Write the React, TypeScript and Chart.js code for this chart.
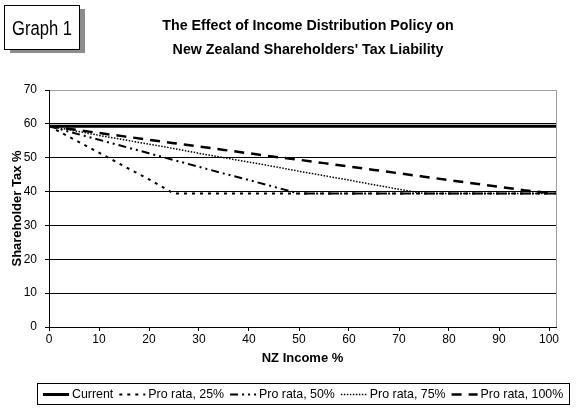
import { useEffect, useRef } from "react";
import { Chart, registerables } from "chart.js";

Chart.register(...registerables);

// ---- data ----
const incomePct = [0, 5, 10, 15, 20, 25, 30, 35, 40, 45, 50, 55, 60, 65, 70, 75, 80, 85, 90, 95, 100, 101.4];
const current = [59.3, 59.3, 59.3, 59.3, 59.3, 59.3, 59.3, 59.3, 59.3, 59.3, 59.3, 59.3, 59.3, 59.3, 59.3, 59.3, 59.3, 59.3, 59.3, 59.3, 59.3, 59.3];
const proRata25 = [59.3, 55.4, 51.5, 47.5, 43.6, 39.4, 39.4, 39.4, 39.4, 39.4, 39.4, 39.4, 39.4, 39.4, 39.4, 39.4, 39.4, 39.4, 39.4, 39.4, 39.4, 39.4];
const proRata50 = [59.3, 57.3, 55.3, 53.3, 51.3, 49.3, 47.3, 45.3, 43.4, 41.4, 39.4, 39.4, 39.4, 39.4, 39.4, 39.4, 39.4, 39.4, 39.4, 39.4, 39.4, 39.4];
const proRata75 = [59.3, 58.0, 56.6, 55.3, 54.0, 52.7, 51.3, 50.0, 48.7, 47.4, 46.0, 44.7, 43.4, 42.0, 40.7, 39.4, 39.4, 39.4, 39.4, 39.4, 39.4, 39.4];
const proRata100 = [59.3, 58.3, 57.3, 56.3, 55.3, 54.3, 53.3, 52.3, 51.3, 50.3, 49.4, 48.4, 47.4, 46.4, 45.4, 44.4, 43.4, 42.4, 41.4, 40.4, 39.6, 39.4];

const seriesLabels = ["Current", "Pro rata, 25%", "Pro rata, 50%", "Pro rata, 75%", "Pro rata, 100%"];
const xTickValues = [0, 10, 20, 30, 40, 50, 60, 70, 80, 90, 100];
const yTickStep = 10;
const titleLines = ["The Effect of Income Distribution Policy on", "New Zealand Shareholders' Tax Liability"];
const boxLabel = "Graph 1";
const xTitle = "NZ Income %";
const yTitle = "Shareholder Tax %";

const SANS = "'Liberation Sans', Arial, sans-serif";

function condensedText(ctx: CanvasRenderingContext2D, text: string, cx: number, y: number, sx: number) {
  ctx.save();
  ctx.translate(cx, y);
  ctx.scale(sx, 1);
  ctx.textAlign = "center";
  ctx.fillText(text, 0, 0);
  ctx.restore();
}

const decorPlugin = {
  id: "decor",
  afterDraw(chart: any) {
    const ctx = chart.ctx as CanvasRenderingContext2D;
    const area = chart.chartArea;
    ctx.save();

    // grey right border of plot area
    ctx.strokeStyle = "#a0a0a0";
    ctx.lineWidth = 1;
    ctx.setLineDash([]);
    const rx = Math.round(area.right) + 0.5;
    ctx.beginPath();
    ctx.moveTo(rx, area.top);
    ctx.lineTo(rx, area.bottom);
    ctx.stroke();

    // "Graph 1" box with shadow
    ctx.fillStyle = "#8c8c8c";
    ctx.fillRect(10, 9, 75, 44);
    ctx.fillStyle = "#ffffff";
    ctx.fillRect(4, 5, 75, 44);
    ctx.strokeStyle = "#000000";
    ctx.strokeRect(4.5, 5.5, 75, 44);
    ctx.fillStyle = "#000000";
    ctx.textBaseline = "alphabetic";
    ctx.font = "20px " + SANS;
    condensedText(ctx, boxLabel, 42, 35, 0.83);

    // title
    ctx.font = "bold 15px " + SANS;
    condensedText(ctx, titleLines[0], 308, 30, 0.95);
    condensedText(ctx, titleLines[1], 308, 54, 0.95);

    // legend
    ctx.font = "12.4px " + SANS;
    const sample = 26, gapText = 3, gapItem = 6, padX = 6;
    const items = chart.data.datasets.map((ds: any) => ({
      label: ds.label,
      dash: ds.borderDash || [],
      width: ds.borderWidth,
      w: ctx.measureText(ds.label).width,
    }));
    let total = padX * 2 + gapItem * (items.length - 1);
    items.forEach((it: any) => (total += sample + gapText + it.w));
    const left = Math.round(303 - total / 2);
    const top = 383;
    const h = 21;
    ctx.lineWidth = 1;
    ctx.setLineDash([]);
    ctx.strokeStyle = "#000";
    ctx.strokeRect(left + 0.5, top + 0.5, Math.round(total), h);
    const cy = top + h / 2 + 1;
    let x = left + padX;
    ctx.textAlign = "left";
    ctx.textBaseline = "middle";
    items.forEach((it: any) => {
      ctx.save();
      ctx.lineWidth = it.width;
      ctx.setLineDash(it.dash);
      ctx.beginPath();
      ctx.moveTo(x, cy);
      ctx.lineTo(x + sample, cy);
      ctx.stroke();
      ctx.restore();
      ctx.fillText(it.label, x + sample + gapText, cy);
      x += sample + gapText + it.w + gapItem;
    });

    ctx.restore();
  },
};

function toPoints(values: number[]) {
  return incomePct.map((x, i) => ({ x, y: values[i] }));
}

export default function App() {
  const canvasRef = useRef<HTMLCanvasElement | null>(null);

  useEffect(() => {
    document.body.style.margin = "0";
    const canvas = canvasRef.current;
    if (!canvas) return;
    const seriesValues = [current, proRata25, proRata50, proRata75, proRata100];
    const styles = [
      { borderWidth: 3, borderDash: [] as number[] },
      { borderWidth: 2, borderDash: [3, 5] },
      { borderWidth: 2, borderDash: [8, 4, 2, 4, 2, 4] },
      { borderWidth: 1.5, borderDash: [1.5, 1.5] },
      { borderWidth: 2.5, borderDash: [10, 7] },
    ];
    const chart = new Chart(canvas, {
      type: "line",
      data: {
        datasets: seriesValues.map((vals, i) => ({
          label: seriesLabels[i],
          data: toPoints(vals),
          borderColor: "#000000",
          backgroundColor: "#000000",
          borderWidth: styles[i].borderWidth,
          borderDash: styles[i].borderDash,
          pointRadius: 0,
          pointHoverRadius: 0,
          tension: 0,
          fill: false,
        })),
      },
      options: {
        responsive: false,
        devicePixelRatio: 1,
        animation: false,
        layout: { padding: { top: 90, right: 20, bottom: 28, left: 0 } },
        plugins: {
          legend: { display: false },
          title: { display: false },
          tooltip: { enabled: false },
        },
        scales: {
          x: {
            type: "linear",
            min: 0,
            max: 101.4,
            afterBuildTicks: (s: any) => {
              s.ticks = xTickValues.map((v) => ({ value: v }));
            },
            afterFit: (s: any) => {
              s.height = 57;
            },
            ticks: {
              autoSkip: false,
              maxRotation: 0,
              padding: 1,
              color: "#000",
              font: { family: SANS, size: 12 },
            },
            grid: {
              drawOnChartArea: false,
              drawTicks: true,
              tickLength: 4,
              color: "#000",
              tickColor: "#000",
            },
            border: { display: true, color: "#000", width: 1 },
            title: {
              display: true,
              text: xTitle,
              color: "#000",
              font: { family: SANS, size: 13, weight: "bold" },
              padding: { top: 0, bottom: 18 },
            },
          },
          y: {
            type: "linear",
            min: 0,
            max: 70,
            afterFit: (s: any) => {
              s.width = 49;
            },
            ticks: {
              stepSize: yTickStep,
              padding: 8,
              color: "#000",
              font: { family: SANS, size: 12 },
            },
            grid: {
              drawTicks: true,
              tickLength: 4,
              color: (c: any) => (c.tick && c.tick.value === 70 ? "#a0a0a0" : "#000000"),
              tickColor: "#000",
            },
            border: { display: true, color: "#000", width: 1 },
            title: {
              display: true,
              text: yTitle,
              color: "#000",
              font: { family: SANS, size: 13, weight: "bold" },
              padding: { top: 10, bottom: 0 },
            },
          },
        },
      },
      plugins: [decorPlugin],
    } as any);
    return () => chart.destroy();
  }, []);

  return (
    <div style={{ width: 576, height: 412, background: "#fff" }}>
      <canvas ref={canvasRef} width={576} height={412} style={{ display: "block" }} />
    </div>
  );
}
